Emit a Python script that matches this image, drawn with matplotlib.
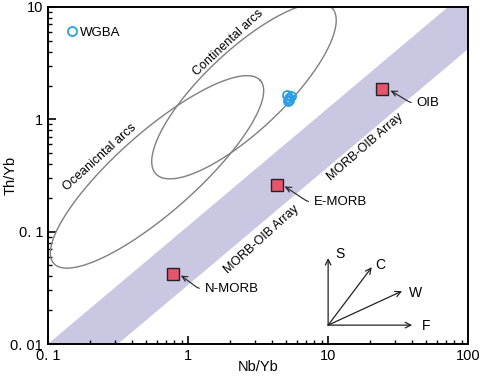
import numpy as np
import matplotlib.pyplot as plt

plt.rcParams['font.family'] = ['Liberation Sans', 'DejaVu Sans']

# ---- data ----
wgba_nb_yb = [5.10, 5.30, 5.20, 5.40, 5.25]
wgba_th_yb = [1.65, 1.55, 1.45, 1.60, 1.50]

ref_names = ['N-MORB', 'E-MORB', 'OIB']
ref_nb_yb = [0.78, 4.3, 24.5]
ref_th_yb = [0.042, 0.26, 1.85]
ref_label_xy = [(1.32, 0.031), (7.94, 0.184), (43.0, 1.40)]

# field ellipses in log10 space: centre, half major vector, half minor vector
oceanic_c, oceanic_a, oceanic_b = (-0.221, -0.468), (0.738, 0.814), (0.189, -0.267)
contin_c, contin_a, contin_b = (0.400, 0.253), (0.629, 0.739), (0.196, -0.259)

# MORB-OIB array edges: log y = -2 + slope * (log x - x0)
band_slope = 1.05
band_upper_x0 = -1.0
band_lower_x0 = -0.5

xticks = [0.1, 1, 10, 100]
xticklabels = ['0. 1', '1', '10', '100']
yticks = [0.01, 0.1, 1, 10]
yticklabels = ['0. 01', '0. 1', '1', '10']

# ---- plot ----
fig = plt.figure(figsize=(4.84, 3.77), dpi=100)
ax = fig.add_axes([0.099, 0.0875, 0.868, 0.894])
ax.set_xscale('log')
ax.set_yscale('log')
ax.set_xlim(0.1, 100)
ax.set_ylim(0.01, 10)

# band
lx = np.linspace(-1, 2, 200)
up = -2 + band_slope * (lx - band_upper_x0)
lo = -2 + band_slope * (lx - band_lower_x0)
ax.fill_between(10 ** lx, 10 ** lo, 10 ** up, color='#cac7e3', lw=0, zorder=1)

# ellipses
t = np.linspace(0, 2 * np.pi, 400)
for c, a, b in [(oceanic_c, oceanic_a, oceanic_b), (contin_c, contin_a, contin_b)]:
    ex = c[0] + a[0] * np.cos(t) + b[0] * np.sin(t)
    ey = c[1] + a[1] * np.cos(t) + b[1] * np.sin(t)
    ax.plot(10 ** ex, 10 ** ey, color='#7f7f7f', lw=1.0, zorder=2)

# WGBA
ax.plot(wgba_nb_yb, wgba_th_yb, 'o', ms=6.5, mfc='none', mec='#2a9fe3',
        mew=1.3, zorder=4, label='WGBA')
ax.legend(loc='upper left', frameon=False, handlelength=0.6,
          handletextpad=0.3, fontsize=9.5, borderaxespad=1.1)

# reference compositions
ax.plot(ref_nb_yb, ref_th_yb, 's', ms=8, mfc='#e5546b', mec='#222222',
        mew=1.0, zorder=5)
for name, x, y, (tx, ty) in zip(ref_names, ref_nb_yb, ref_th_yb, ref_label_xy):
    ax.annotate(name, xy=(x, y), xytext=(tx, ty), fontsize=9.5,
                ha='left', va='center',
                arrowprops=dict(arrowstyle='->', color='#222222', lw=0.8,
                                shrinkA=2, shrinkB=6, relpos=(0, 0.5),
                                connectionstyle='arc,angleA=180,armA=6,'
                                                'angleB=0,armB=6,rad=4'))

# field labels
ax.text(0.235, 0.463, 'Oceanicntal arcs', rotation=42, fontsize=9,
        ha='center', va='center', rotation_mode='anchor')
ax.text(1.93, 4.79, 'Continental arcs', rotation=43, fontsize=9,
        ha='center', va='center', rotation_mode='anchor')
ax.text(18.4, 0.567, 'MORB-OIB Array', rotation=41, fontsize=9,
        ha='center', va='center', rotation_mode='anchor')
ax.text(3.38, 0.0845, 'MORB-OIB Array', rotation=42, fontsize=9,
        ha='center', va='center', rotation_mode='anchor')

# process vectors
origin = (0.667, 0.056)
vec_names = ['S', 'C', 'W', 'F']
vec_tips = [(0.667, 0.255), (0.771, 0.228), (0.843, 0.157), (0.867, 0.056)]
vec_lbls = [(0.695, 0.266), (0.792, 0.234), (0.876, 0.151), (0.900, 0.052)]
for n, tip, lp in zip(vec_names, vec_tips, vec_lbls):
    ax.annotate('', xy=tip, xytext=origin, xycoords='axes fraction',
                arrowprops=dict(arrowstyle='->', color='#222222', lw=0.9,
                                shrinkA=0, shrinkB=0))
    ax.text(lp[0], lp[1], n, transform=ax.transAxes, fontsize=10,
            ha='center', va='center')

ax.set_xticks(xticks)
ax.set_xticklabels(xticklabels)
ax.set_yticks(yticks)
ax.set_yticklabels(yticklabels)
ax.tick_params(which='both', direction='in', top=False, right=False,
               labelsize=10.5)
ax.tick_params(which='major', length=6, width=1.2)
ax.tick_params(which='minor', length=3, width=1.0)
for s in ax.spines.values():
    s.set_linewidth(1.4)

ax.set_xlabel('Nb/Yb', fontsize=10.5)
ax.set_ylabel('Th/Yb', fontsize=10.5)
ax.xaxis.set_label_coords(0.5, -0.048)
ax.yaxis.set_label_coords(-0.071, 0.5)

fig.savefig('out.png', dpi=100)
